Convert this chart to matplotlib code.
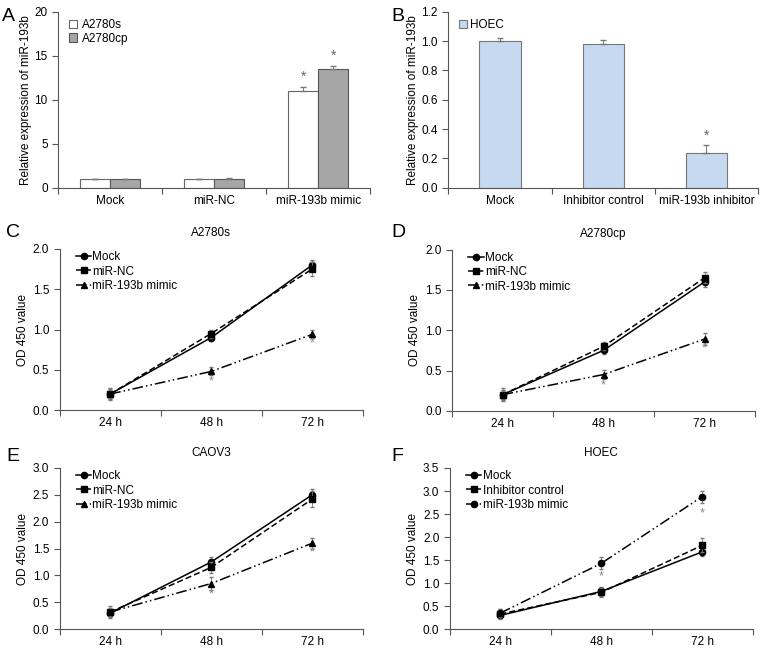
import numpy as np
import matplotlib
matplotlib.use('Agg')
import matplotlib.pyplot as plt

plt.rcParams['font.family'] = ['Liberation Sans', 'DejaVu Sans']
plt.rcParams['font.size'] = 8

# ---- data ----
a_groups = ['Mock', 'miR-NC', 'miR-193b mimic']
a_s = [1.0, 1.0, 11.0]
a_s_err = [0.05, 0.05, 0.5]
a_cp = [1.0, 1.05, 13.5]
a_cp_err = [0.05, 0.06, 0.35]

b_groups = ['Mock', 'Inhibitor control', 'miR-193b inhibitor']
b_vals = [1.0, 0.98, 0.24]
b_err = [0.02, 0.03, 0.05]

times = ['24 h', '48 h', '72 h']

c_mock = [0.20, 0.90, 1.80]
c_nc = [0.20, 0.95, 1.75]
c_mimic = [0.20, 0.48, 0.94]
c_mock_err = [0.06, 0.04, 0.06]
c_nc_err = [0.08, 0.05, 0.09]
c_mimic_err = [0.05, 0.05, 0.05]

d_mock = [0.20, 0.75, 1.60]
d_nc = [0.20, 0.80, 1.65]
d_mimic = [0.20, 0.45, 0.89]
d_mock_err = [0.06, 0.04, 0.06]
d_nc_err = [0.08, 0.05, 0.07]
d_mimic_err = [0.05, 0.06, 0.07]

e_mock = [0.30, 1.25, 2.50]
e_nc = [0.32, 1.15, 2.42]
e_mimic = [0.32, 0.85, 1.60]
e_mock_err = [0.08, 0.10, 0.10]
e_nc_err = [0.12, 0.10, 0.15]
e_mimic_err = [0.08, 0.12, 0.10]

f_mock = [0.30, 0.82, 1.68]
f_ic = [0.33, 0.80, 1.82]
f_mimic = [0.35, 1.43, 2.88]
f_mock_err = [0.06, 0.10, 0.10]
f_ic_err = [0.10, 0.10, 0.15]
f_mimic_err = [0.08, 0.13, 0.13]

fig = plt.figure(figsize=(7.65, 6.5), dpi=100)

spine_col = '#555555'
err_col = '#777777'


def style_axes(ax, ncat):
    for s in ['top', 'right']:
        ax.spines[s].set_visible(False)
    for s in ['left', 'bottom']:
        ax.spines[s].set_color(spine_col)
        ax.spines[s].set_linewidth(0.8)
    ax.set_xlim(-0.5, ncat - 0.5)
    ax.set_xticks(np.arange(ncat + 1) - 0.5)
    ax.set_xticklabels([])
    ax.set_xticks(np.arange(ncat), minor=True)
    ax.tick_params(axis='x', which='major', direction='out', length=4, color=spine_col)
    ax.tick_params(axis='x', which='minor', length=0, labelsize=8.5, pad=5)
    ax.tick_params(axis='y', direction='out', length=4, color=spine_col, labelsize=8.5)


# ---- A ----
axA = fig.add_axes([0.076, 0.711, 0.408, 0.271])
x = np.arange(3)
w = 0.29
axA.bar(x - w / 2, a_s, w, color='white', edgecolor='#666666', linewidth=0.8, label='A2780s')
axA.bar(x + w / 2, a_cp, w, color='#a6a6a6', edgecolor='#555555', linewidth=0.8, label='A2780cp')
axA.errorbar(x - w / 2, a_s, yerr=[np.zeros(3), a_s_err], fmt='none', ecolor=err_col, elinewidth=0.7, capsize=2)
axA.errorbar(x + w / 2, a_cp, yerr=[np.zeros(3), a_cp_err], fmt='none', ecolor=err_col, elinewidth=0.7, capsize=2)
axA.text(2 - w / 2, a_s[2] + a_s_err[2] + 0.3, '*', ha='center', va='bottom', color='#666666', fontsize=10)
axA.text(2 + w / 2, a_cp[2] + a_cp_err[2] + 0.3, '*', ha='center', va='bottom', color='#666666', fontsize=10)
style_axes(axA, 3)
axA.set_xticklabels(a_groups, minor=True)
axA.set_ylim(0, 20)
axA.set_yticks([0, 5, 10, 15, 20])
axA.set_ylabel('Relative expression of miR-193b', fontsize=8.5, labelpad=2)
axA.legend(loc='upper left', bbox_to_anchor=(0.0, 1.02), frameon=False, fontsize=8.5,
           handlelength=0.7, handleheight=0.7, handletextpad=0.4, labelspacing=0.15)
fig.text(0.003, 0.975, 'A', fontsize=14, va='center')

# ---- B ----
axB = fig.add_axes([0.586, 0.711, 0.405, 0.271])
axB.bar(np.arange(3), b_vals, 0.4, color='#c6d9f0', edgecolor='#777777', linewidth=0.8, label='HOEC')
axB.errorbar(np.arange(3), b_vals, yerr=[np.zeros(3), b_err], fmt='none', ecolor=err_col, elinewidth=0.7, capsize=2)
axB.text(2, b_vals[2] + b_err[2] + 0.02, '*', ha='center', va='bottom', color='#666666', fontsize=10)
style_axes(axB, 3)
axB.set_xticklabels(b_groups, minor=True)
axB.set_ylim(0, 1.2)
axB.set_yticks(np.arange(0, 1.21, 0.2))
axB.set_yticklabels(['%.1f' % v for v in np.arange(0, 1.21, 0.2)])
axB.set_ylabel('Relative expression of miR-193b', fontsize=8.5, labelpad=2)
axB.legend(loc='upper left', bbox_to_anchor=(0.0, 1.02), frameon=False, fontsize=8.5,
           handlelength=0.7, handleheight=0.7, handletextpad=0.2)
fig.text(0.512, 0.975, 'B', fontsize=14, va='center')


def line_panel(rect, series, errs, labels, markers, styles, ymax, title, letter, letter_pos, stars):
    ax = fig.add_axes(rect)
    xs = np.arange(3)
    for vals, err, lab, mk, ls in zip(series, errs, labels, markers, styles):
        ax.errorbar(xs, vals, yerr=err, fmt='none', ecolor=err_col, elinewidth=0.6, capsize=1.5)
        ax.plot(xs, vals, color='black', linestyle=ls, linewidth=1.1, marker=mk, markersize=4.5, label=lab)
    for xi, yv in stars:
        ax.text(xi, yv, '*', ha='center', va='center', color='#888888', fontsize=9)
    style_axes(ax, 3)
    ax.set_xticklabels(times, minor=True)
    ax.set_ylim(0, ymax)
    ticks = np.arange(0, ymax + 0.01, 0.5)
    ax.set_yticks(ticks)
    ax.set_yticklabels(['%.1f' % t for t in ticks])
    ax.set_ylabel('OD 450 value', fontsize=8.5, labelpad=3)
    ax.set_title(title, fontsize=8.5, pad=9)
    ax.legend(loc='upper left', bbox_to_anchor=(0.03, 1.03), frameon=False, fontsize=8.5,
              handlelength=1.3, handletextpad=0.1, labelspacing=0.2, borderaxespad=0.2)
    fig.text(letter_pos[0], letter_pos[1], letter, fontsize=14, va='center')
    return ax


dash_dot_dot = (0, (7, 2, 1, 2, 1, 2))

line_panel([0.078, 0.369, 0.396, 0.248], [c_mock, c_nc, c_mimic], [c_mock_err, c_nc_err, c_mimic_err],
           ['Mock', 'miR-NC', 'miR-193b mimic'], ['o', 's', '^'], ['-', (0, (4, 2)), dash_dot_dot],
           2.0, 'A2780s', 'C', (0.008, 0.643), [(1, 0.36), (2, 0.83)])

line_panel([0.591, 0.368, 0.396, 0.248], [d_mock, d_nc, d_mimic], [d_mock_err, d_nc_err, d_mimic_err],
           ['Mock', 'miR-NC', 'miR-193b mimic'], ['o', 's', '^'], ['-', (0, (4, 2)), dash_dot_dot],
           2.0, 'A2780cp', 'D', (0.512, 0.643), [(1, 0.32), (2, 0.77)])

line_panel([0.078, 0.032, 0.396, 0.248], [e_mock, e_nc, e_mimic], [e_mock_err, e_nc_err, e_mimic_err],
           ['Mock', 'miR-NC', 'miR-193b mimic'], ['o', 's', '^'], ['-', (0, (4, 2)), dash_dot_dot],
           3.0, 'CAOV3', 'E', (0.008, 0.297), [(1, 0.65), (2, 1.42)])

line_panel([0.588, 0.032, 0.396, 0.248], [f_mock, f_ic, f_mimic], [f_mock_err, f_ic_err, f_mimic_err],
           ['Mock', 'Inhibitor control', 'miR-193b mimic'], ['o', 's', 'o'], ['-', (0, (4, 2)), dash_dot_dot],
           3.5, 'HOEC', 'F', (0.512, 0.297), [(1, 1.15), (2, 2.52)])

fig.savefig('out.png', dpi=100)
